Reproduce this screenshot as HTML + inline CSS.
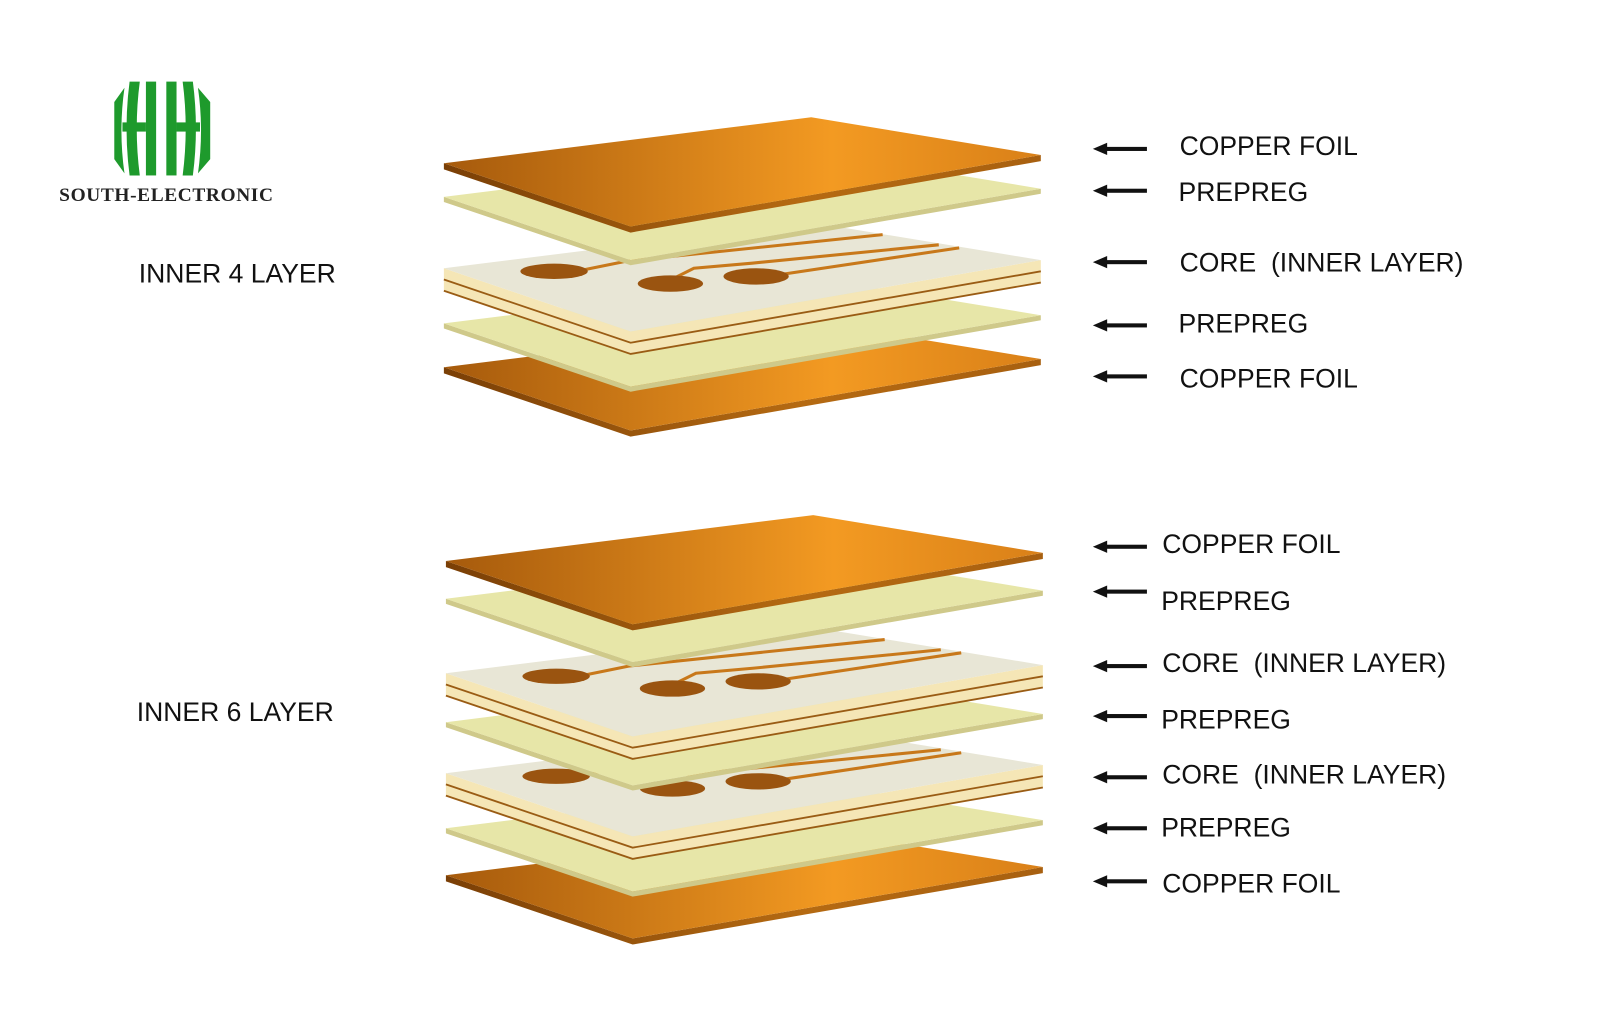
<!DOCTYPE html>
<html><head><meta charset="utf-8"><style>
html,body{margin:0;padding:0;background:#fff;}
svg{display:block}
</style></head><body>
<svg width="1600" height="1018" viewBox="0 0 1568 998" preserveAspectRatio="none" xmlns="http://www.w3.org/2000/svg">
<defs>
<linearGradient id="cu" x1="435" y1="0" x2="1020" y2="0" gradientUnits="userSpaceOnUse">
<stop offset="0" stop-color="#a65a0c"/><stop offset="0.65" stop-color="#f39a22"/><stop offset="1" stop-color="#d98018"/>
</linearGradient>
<linearGradient id="cus" x1="435" y1="0" x2="1020" y2="0" gradientUnits="userSpaceOnUse">
<stop offset="0" stop-color="#7a3f06"/><stop offset="0.6" stop-color="#b56a12"/><stop offset="1" stop-color="#a86010"/>
</linearGradient>
<g id="copper">
<polygon points="435,160 618,222 1020,152 1020,158 618,228 435,166" fill="url(#cus)"/>
<polygon points="435,160 795,115 1020,152 618,222" fill="url(#cu)"/>
</g>
<g id="prepreg">
<polygon points="435,160 618,222 1020,152 1020,157 618,227 435,165" fill="#cfc98a"/>
<polygon points="435,160 795,115 1020,152 618,222" fill="#e7e6a8"/>
</g>
<g id="core">
<polygon points="435,160 618,222 1020,152 1020,174 618,244 435,182" fill="#f5e6b6"/>
<polyline points="435,171 618,233 1020,163" fill="none" stroke="#9a5c14" stroke-width="1.8"/>
<polyline points="435,182 618,244 1020,174" fill="none" stroke="#9a5c14" stroke-width="1.8"/>
<polygon points="435,160 795,115 1020,152 618,222" fill="#e8e6d6"/>
<g fill="none" stroke="#c8781a" stroke-width="3">
<polyline points="570,162 614,153 865,127"/>
<polyline points="660,170 680,160 737,155 920,137"/>
<polyline points="766,166 940,140"/>
</g>
<ellipse cx="543" cy="163" rx="33" ry="7.5" fill="#9a5410"/>
<ellipse cx="657" cy="175" rx="32" ry="8" fill="#9a5410"/>
<ellipse cx="741" cy="168" rx="32" ry="8" fill="#9a5410"/>
</g>
<g id="arrow">
<rect x="1082" y="-2" width="42" height="4" fill="#111"/>
<polygon points="1071,0 1085,-6 1085,6" fill="#111"/>
</g>
</defs>

<!-- logo -->
<g fill="#1e9a2c">
<path d="M112,100 L122,86 Q116,128 122,170 L112,156 Z"/>
<path d="M127,80 L137,80 Q131,126 137,172 L127,172 Q121,126 127,80 Z"/>
<rect x="143" y="80" width="10" height="92"/>
<rect x="163" y="80" width="10" height="92"/>
<path d="M179,80 L189,80 Q195,126 189,172 L179,172 Q185,126 179,80 Z"/>
<path d="M194,86 L206,100 L206,156 L194,170 Q200,128 194,86 Z"/>
<rect x="120" y="120" width="23" height="9"/>
<rect x="173" y="120" width="23" height="9"/>
</g>
<text x="58" y="197" font-family="Liberation Serif, serif" font-weight="bold" font-size="19" fill="#222" letter-spacing="0.6">SOUTH-ELECTRONIC</text>

<text x="136" y="277" font-family="Liberation Sans, sans-serif" font-size="26" fill="#111">INNER 4 LAYER</text>
<text x="134" y="707" font-family="Liberation Sans, sans-serif" font-size="26" fill="#111">INNER 6 LAYER</text>

<!-- top stack -->
<use href="#copper" transform="translate(0,200)"/>
<use href="#prepreg" transform="translate(0,157)"/>
<use href="#core" transform="translate(0,103)"/>
<use href="#prepreg" transform="translate(0,33)"/>
<use href="#copper"/>

<!-- bottom stack -->
<use href="#copper" transform="translate(2,698)"/>
<use href="#prepreg" transform="translate(2,652)"/>
<use href="#core" transform="translate(2,598)"/>
<use href="#prepreg" transform="translate(2,548)"/>
<use href="#core" transform="translate(2,500)"/>
<use href="#prepreg" transform="translate(2,427)"/>
<use href="#copper" transform="translate(2,390)"/>

<!-- arrows -->
<use href="#arrow" transform="translate(0,146)"/>
<use href="#arrow" transform="translate(0,187)"/>
<use href="#arrow" transform="translate(0,257)"/>
<use href="#arrow" transform="translate(0,319)"/>
<use href="#arrow" transform="translate(0,369)"/>
<use href="#arrow" transform="translate(0,536)"/>
<use href="#arrow" transform="translate(0,580)"/>
<use href="#arrow" transform="translate(0,653)"/>
<use href="#arrow" transform="translate(0,702)"/>
<use href="#arrow" transform="translate(0,762)"/>
<use href="#arrow" transform="translate(0,812)"/>
<use href="#arrow" transform="translate(0,864)"/>

<g font-family="Liberation Sans, sans-serif" font-size="26" fill="#111">
<text x="1156" y="152">COPPER FOIL</text>
<text x="1155" y="197">PREPREG</text>
<text x="1156" y="266">CORE&#160;&#160;(INNER LAYER)</text>
<text x="1155" y="326">PREPREG</text>
<text x="1156" y="380">COPPER FOIL</text>
<text x="1139" y="542">COPPER FOIL</text>
<text x="1138" y="598">PREPREG</text>
<text x="1139" y="659">CORE&#160;&#160;(INNER LAYER)</text>
<text x="1138" y="714">PREPREG</text>
<text x="1139" y="768">CORE&#160;&#160;(INNER LAYER)</text>
<text x="1138" y="820">PREPREG</text>
<text x="1139" y="875">COPPER FOIL</text>
</g>
</svg>
</body></html>
